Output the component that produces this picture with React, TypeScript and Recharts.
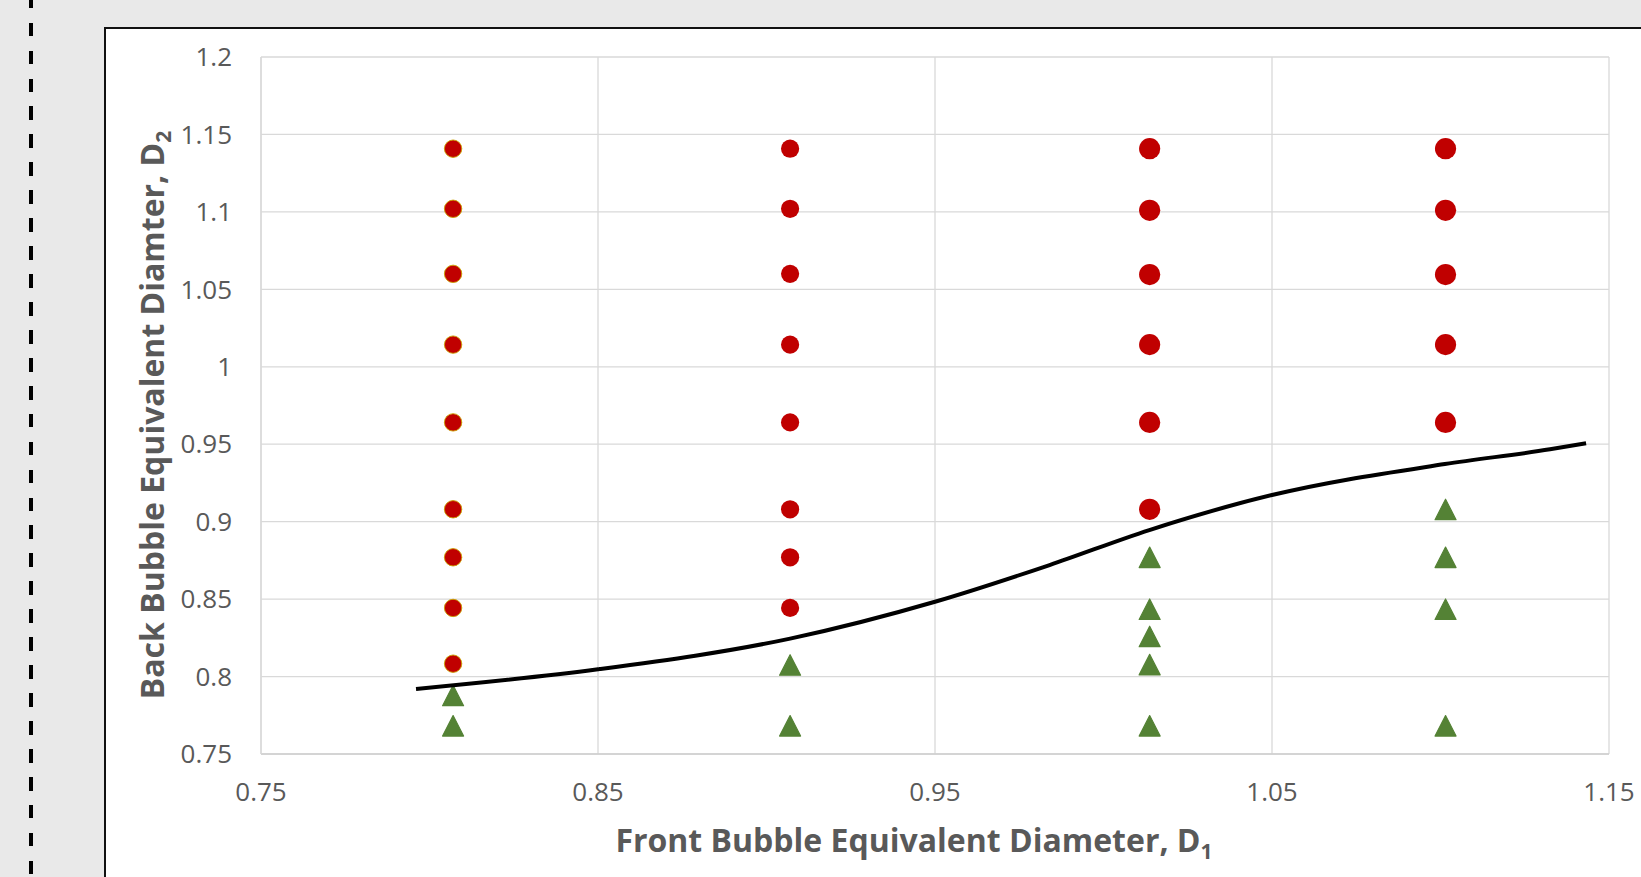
import React from "react";
import { ScatterChart, Scatter, XAxis, YAxis, CartesianGrid, Label } from "recharts";

// ---- data ----
const columnX = [0.807, 0.907, 1.0137, 1.1015];

const col1Circles = [1.1408, 1.102, 1.06, 1.0143, 0.9641, 0.908, 0.877, 0.8443, 0.8083];
const col2Circles = [1.1408, 1.102, 1.06, 1.0143, 0.9641, 0.908, 0.877, 0.8443];
const col3Circles = [1.1408, 1.101, 1.0595, 1.0143, 0.9641, 0.908];
const col4Circles = [1.1408, 1.101, 1.0595, 1.0143, 0.9641];

const col1Triangles = [0.7878, 0.7682];
const col2Triangles = [0.8075, 0.7682];
const col3Triangles = [0.877, 0.8435, 0.8259, 0.8077, 0.7682];
const col4Triangles = [0.9079, 0.877, 0.8435, 0.7682];

const curveX = [0.796, 0.85, 0.907, 0.95, 0.984, 1.0136, 1.05, 1.1013, 1.1325, 1.1432];
const curveY = [0.792, 0.8047, 0.8245, 0.8483, 0.872, 0.8946, 0.9172, 0.9372, 0.9467, 0.9506];

const xTicks = [0.75, 0.85, 0.95, 1.05, 1.15];
const yTicks = [0.75, 0.8, 0.85, 0.9, 0.95, 1, 1.05, 1.1, 1.15, 1.2];

const xTitle = "Front Bubble Equivalent Diameter, D";
const xTitleSub = "1";
const yTitle = "Back Bubble Equivalent Diamter, D";
const yTitleSub = "2";

// ---- helpers ----
const toPts = (x: number, ys: number[]) => ys.map((y) => ({ x, y }));
const circles1 = toPts(columnX[0], col1Circles);
const circles2 = toPts(columnX[1], col2Circles);
const circlesBig = [...toPts(columnX[2], col3Circles), ...toPts(columnX[3], col4Circles)];
const triangles = [
  ...toPts(columnX[0], col1Triangles),
  ...toPts(columnX[1], col2Triangles),
  ...toPts(columnX[2], col3Triangles),
  ...toPts(columnX[3], col4Triangles),
];
const curve = curveX.map((x, i) => ({ x, y: curveY[i] }));

const RED = "#c00000";
const GREEN = "#548235";
const TEXT = "#595959";
const GRID = "#d9d9d9";

const fmt = (v: number) => String(Number(v.toFixed(2)));

const CircleSmallOutlined = (p: any) => (
  <circle cx={p.cx} cy={p.cy} r={8.7} fill={RED} stroke="#c9a000" strokeWidth={0.9} />
);
const CircleSmall = (p: any) => <circle cx={p.cx} cy={p.cy} r={9.1} fill={RED} />;
const CircleBig = (p: any) => <circle cx={p.cx} cy={p.cy} r={10.6} fill={RED} />;
const Triangle = (p: any) => {
  const w = 21;
  const h = 20.5;
  const { cx, cy } = p;
  return (
    <path
      d={`M${cx},${cy - h / 2} L${cx + w / 2},${cy + h / 2} L${cx - w / 2},${cy + h / 2} Z`}
      fill={GREEN}
      stroke={GREEN}
      strokeWidth={1.2}
      strokeLinejoin="round"
    />
  );
};
const NoShape = () => <g />;

const XTitle = (props: any) => {
  const vb = props.viewBox || {};
  const cx = vb.x + vb.width / 2 - 21;
  const y = vb.y + 98;
  return (
    <text x={cx} y={y} textAnchor="middle" fill={TEXT} fontFamily="'Open Sans'" fontWeight={700} fontSize={32}>
      {xTitle}
      <tspan fontSize={21} dy={7}>{xTitleSub}</tspan>
    </text>
  );
};

const YTitle = (props: any) => {
  const vb = props.viewBox || {};
  const x = 59;
  const cy = vb.y + vb.height / 2 + 9.5;
  return (
    <text
      x={x}
      y={cy}
      transform={`rotate(-90, ${x}, ${cy})`}
      textAnchor="middle"
      fill={TEXT}
      fontFamily="'Open Sans'"
      fontWeight={700}
      fontSize={32}
    >
      {yTitle}
      <tspan fontSize={21} dy={7}>{yTitleSub}</tspan>
    </text>
  );
};

const tickStyle = { fill: TEXT, fontSize: 26, fontFamily: "'Open Sans'" };

export default function App() {
  return (
    <div
      style={{
        position: "fixed",
        left: 0,
        top: 0,
        width: 1641,
        height: 877,
        background: "#e9e9e9",
        overflow: "hidden",
      }}
    >
      <div
        style={{
          position: "absolute",
          left: 29,
          top: 0,
          width: 4,
          height: 877,
          background:
            "repeating-linear-gradient(to bottom, #000 0px, #000 8.5px, transparent 8.5px, transparent 22.7px, #000 22.7px, #000 27.93px)",
        }}
      />
      <div
        style={{
          position: "absolute",
          left: 104,
          top: 27,
          width: 1600,
          height: 900,
          background: "#fff",
          borderTop: "2px solid #111",
          borderLeft: "2px solid #111",
        }}
      />
      <div style={{ position: "absolute", left: 105, top: 28 }}>
        <ScatterChart width={1536} height={849} margin={{ top: 29, right: 32, bottom: 63, left: 0 }}>
          <CartesianGrid stroke={GRID} strokeWidth={1.3} />
          <XAxis
            type="number"
            dataKey="x"
            domain={[0.75, 1.15]}
            ticks={xTicks}
            tickFormatter={fmt}
            tick={tickStyle}
            tickLine={false}
            tickSize={6}
            tickMargin={23}
            axisLine={{ stroke: "#cfcfcf", strokeWidth: 1.5 }}
            height={60}
            allowDataOverflow
          >
            <Label content={XTitle} />
          </XAxis>
          <YAxis
            type="number"
            dataKey="y"
            domain={[0.75, 1.2]}
            ticks={yTicks}
            tickFormatter={fmt}
            tick={tickStyle}
            tickLine={false}
            tickSize={6}
            tickMargin={23}
            axisLine={{ stroke: GRID, strokeWidth: 1.3 }}
            width={156}
            allowDataOverflow
          >
            <Label content={YTitle} />
          </YAxis>
          <Scatter data={circles1} shape={CircleSmallOutlined} isAnimationActive={false} />
          <Scatter data={circles2} shape={CircleSmall} isAnimationActive={false} />
          <Scatter data={circlesBig} shape={CircleBig} isAnimationActive={false} />
          <Scatter data={triangles} shape={Triangle} isAnimationActive={false} />
          <Scatter
            data={curve}
            line={{ stroke: "#000", strokeWidth: 4 }}
            lineJointType="monotoneX"
            shape={NoShape}
            isAnimationActive={false}
          />
        </ScatterChart>
      </div>
    </div>
  );
}
